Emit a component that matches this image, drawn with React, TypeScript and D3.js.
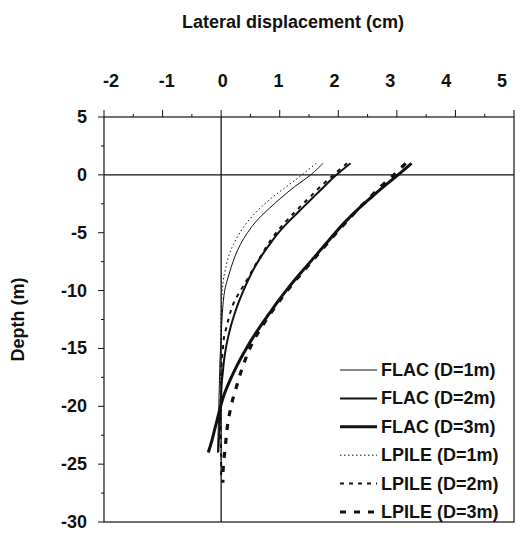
import React from "react";
import * as d3 from "d3";

const xTicks = [-2, -1, 0, 1, 2, 3, 4, 5];
const yTicks = [5, 0, -5, -10, -15, -20, -25, -30];

const flac1Depth = [1, 0, -1, -2, -3, -4, -5, -6, -7, -8, -9, -10, -12, -14, -16, -18, -20, -22, -24];
const flac1Disp = [1.74, 1.53, 1.26, 1.02, 0.8, 0.6, 0.45, 0.33, 0.24, 0.17, 0.11, 0.06, 0.02, 0.0, -0.02, -0.03, -0.04, -0.05, -0.06];

const flac2Depth = [1, 0, -1, -2, -3, -4, -5, -6, -7, -8, -9, -10, -11, -12, -13, -14, -15, -16, -17, -18, -19, -20, -22, -24];
const flac2Disp = [2.21, 1.97, 1.76, 1.56, 1.36, 1.16, 0.98, 0.83, 0.69, 0.57, 0.47, 0.38, 0.3, 0.23, 0.17, 0.12, 0.08, 0.05, 0.03, 0.01, 0.0, -0.01, -0.03, -0.05];

const flac3Depth = [1, 0, -1, -2, -3, -4, -5, -6, -7, -8, -9, -10, -11, -12, -13, -14, -15, -16, -17, -18, -19, -20, -21, -22, -23, -24];
const flac3Disp = [3.25, 3.02, 2.78, 2.55, 2.33, 2.13, 1.95, 1.78, 1.61, 1.44, 1.27, 1.11, 0.96, 0.82, 0.68, 0.55, 0.43, 0.32, 0.22, 0.13, 0.05, -0.01, -0.06, -0.11, -0.16, -0.22];

const lpile1Depth = [1, 0, -1, -2, -3, -4, -5, -6, -7, -8, -9, -10, -12, -14, -16, -18, -20, -22, -24, -26];
const lpile1Disp = [1.62, 1.38, 1.12, 0.86, 0.64, 0.46, 0.32, 0.21, 0.13, 0.08, 0.04, 0.02, 0.0, -0.01, -0.01, -0.01, 0.0, 0.0, 0.0, 0.0];

const lpile2Depth = [1, 0, -1, -2, -3, -4, -5, -6, -7, -8, -9, -10, -11, -12, -13, -14, -15, -16, -18, -20, -22, -24, -26];
const lpile2Disp = [2.15, 1.92, 1.7, 1.5, 1.3, 1.11, 0.94, 0.8, 0.68, 0.56, 0.45, 0.33, 0.22, 0.15, 0.1, 0.05, 0.03, 0.01, 0.0, -0.01, -0.01, 0.0, 0.0];

const lpile3Depth = [1, 0, -1, -2, -3, -4, -5, -6, -7, -8, -9, -10, -11, -12, -13, -14, -15, -16, -17, -18, -19, -20, -21, -22, -23, -24, -25, -26, -26.6];
const lpile3Disp = [3.15, 2.95, 2.73, 2.53, 2.33, 2.15, 1.97, 1.8, 1.63, 1.46, 1.29, 1.13, 0.98, 0.84, 0.71, 0.59, 0.49, 0.41, 0.34, 0.28, 0.22, 0.17, 0.13, 0.1, 0.08, 0.06, 0.04, 0.03, 0.03];

const seriesNames = ["FLAC (D=1m)", "FLAC (D=2m)", "FLAC (D=3m)", "LPILE (D=1m)", "LPILE (D=2m)", "LPILE (D=3m)"];

const FONT = "'Liberation Sans', Arial, sans-serif";

export default function App() {
  const left = 104, right = 514, top = 117, bottom = 522;
  const x = d3.scaleLinear().domain([-2, 5]).range([left, right]);
  const y = d3.scaleLinear().domain([5, -30]).range([top, bottom]);
  // tick labels in the source are set slightly inward of the tick marks
  const xLabel = d3.scaleLinear().domain([-2, 5]).range([111, 502]);

  const series = [
    { name: seriesNames[0], depth: flac1Depth, disp: flac1Disp, w: 1, dash: "none" },
    { name: seriesNames[1], depth: flac2Depth, disp: flac2Disp, w: 2, dash: "none" },
    { name: seriesNames[2], depth: flac3Depth, disp: flac3Disp, w: 3, dash: "none" },
    { name: seriesNames[3], depth: lpile1Depth, disp: lpile1Disp, w: 1, dash: "1.5,2.5" },
    { name: seriesNames[4], depth: lpile2Depth, disp: lpile2Disp, w: 2, dash: "4,5" },
    { name: seriesNames[5], depth: lpile3Depth, disp: lpile3Disp, w: 3.2, dash: "6,8" },
  ];

  const line = d3
    .line<[number, number]>()
    .x((d) => x(d[0]))
    .y((d) => y(d[1]))
    .curve(d3.curveCatmullRom.alpha(0.5));

  const xMinor = d3.range(-2, 5.01, 0.5);
  const yMinor = d3.range(5, -30.01, -2.5);

  const legendX0 = 340, legendX1 = 377, legendTextX = 381, legendY0 = 370, legendDy = 28.4;

  return (
    <svg width={521} height={534} style={{ position: "absolute", left: 0, top: 0, background: "#fff" }}>
      <rect x={0} y={0} width={521} height={534} fill="#fff" />
      <text x={293} y={28} textAnchor="middle" fontFamily={FONT} fontWeight="bold" fontSize={18} fill="#111">
        Lateral displacement (cm)
      </text>
      <text
        transform={`translate(24,${(top + bottom) / 2}) rotate(-90)`}
        textAnchor="middle"
        fontFamily={FONT}
        fontWeight="bold"
        fontSize={18}
        fill="#111"
      >
        Depth (m)
      </text>

      {/* frame */}
      <rect x={left} y={top} width={right - left} height={bottom - top} fill="none" stroke="#111" strokeWidth={1.2} />
      {/* zero lines */}
      <line x1={left} x2={right} y1={y(0)} y2={y(0)} stroke="#111" strokeWidth={1.3} />
      <line x1={x(0)} x2={x(0)} y1={top} y2={bottom} stroke="#111" strokeWidth={1.3} />

      {/* x ticks (top) */}
      {xMinor.map((v) => {
        const major = Math.abs(v - Math.round(v)) < 1e-6;
        return <line key={"xt" + v} x1={x(v)} x2={x(v)} y1={top} y2={top - (major ? 7 : 3)} stroke="#111" strokeWidth={1} />;
      })}
      {xTicks.map((v) => (
        <text key={"xl" + v} x={xLabel(v)} y={87} textAnchor="middle" fontFamily={FONT} fontWeight="bold" fontSize={18} fill="#111">
          {v}
        </text>
      ))}

      {/* y ticks (left) */}
      {yMinor.map((v) => {
        const major = Math.abs(v / 5 - Math.round(v / 5)) < 1e-6;
        return <line key={"yt" + v} x1={left} x2={left - (major ? 6 : 3)} y1={y(v)} y2={y(v)} stroke="#111" strokeWidth={1} />;
      })}
      {yTicks.map((v) => (
        <text key={"yl" + v} x={87} y={y(v) + 6} textAnchor="end" fontFamily={FONT} fontWeight="bold" fontSize={18} fill="#111">
          {v}
        </text>
      ))}

      {/* curves */}
      {series.map((s) => (
        <path
          key={s.name}
          d={line(s.depth.map((dv, i) => [s.disp[i], dv] as [number, number])) || ""}
          fill="none"
          stroke="#111"
          strokeWidth={s.w}
          strokeDasharray={s.dash}
        />
      ))}

      {/* legend */}
      {series.map((s, i) => (
        <g key={"lg" + s.name}>
          <line
            x1={legendX0}
            x2={legendX1}
            y1={legendY0 + i * legendDy}
            y2={legendY0 + i * legendDy}
            stroke="#111"
            strokeWidth={s.w}
            strokeDasharray={s.dash}
          />
          <text
            x={legendTextX}
            y={legendY0 + i * legendDy + 6}
            fontFamily={FONT}
            fontWeight="bold"
            fontSize={18}
            fill="#111"
          >
            {s.name}
          </text>
        </g>
      ))}
    </svg>
  );
}
